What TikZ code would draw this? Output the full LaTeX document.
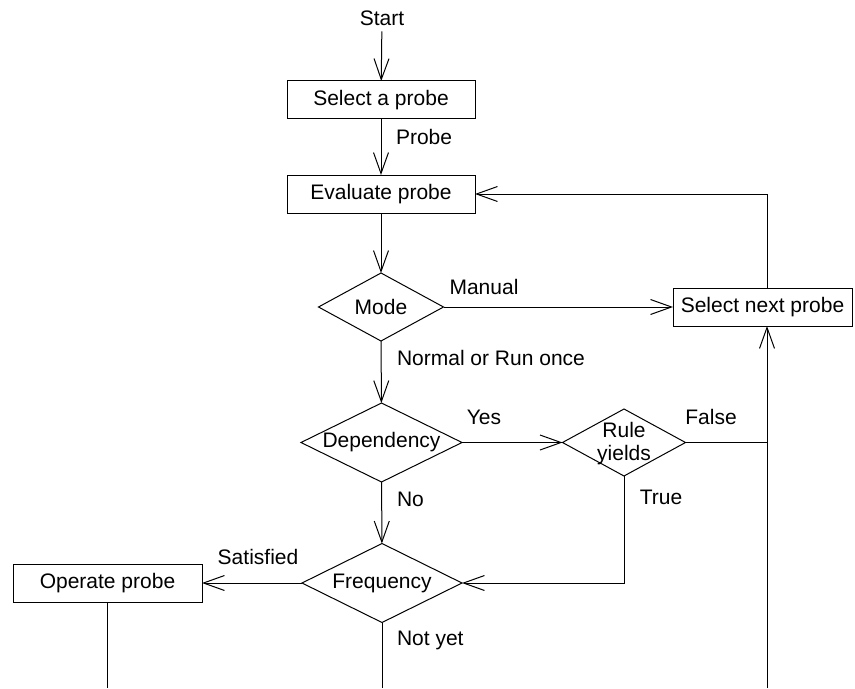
\documentclass[tikz,border=0pt]{standalone}
\usepackage{fontspec}
\setmainfont{Liberation Sans}
\usetikzlibrary{shapes.geometric,arrows.meta}
\begin{document}
\begin{tikzpicture}[x=0.75pt,y=-0.75pt,
  every node/.style={font=\fontsize{15.75}{18}\selectfont, inner sep=0pt, outer sep=0pt},
  line/.style={draw=black, line width=0.75pt},
  flow/.style={line, -{Straight Barb[length=15.75pt,width=11.25pt,line width=0.75pt]}},
  stepbox/.style={draw=black, line width=0.75pt, rectangle, minimum height=28.5pt},
  choice/.style={draw=black, line width=0.75pt, diamond},
  tag/.style={anchor=west}
]
\useasboundingbox (0,0) rectangle (855,688);

% process boxes
\node (start) at (382,18) {Start};
\node[stepbox, minimum width=141pt] (sel) at (381,100) {Select a probe};
\node[stepbox, minimum width=141pt] (eval) at (381,194) {Evaluate probe};
\node[stepbox, minimum width=134.25pt] (next) at (762.5,307) {Select next probe};
\node[stepbox, minimum width=141.75pt] (op) at (107.5,583) {Operate probe};

% decisions
\node[choice, minimum width=93.75pt, minimum height=51pt] (mode) at (381,307) {};
\node (mode-t) at (mode) {Mode};
\node[choice, minimum width=120.75pt, minimum height=59.25pt] (dep) at (381.5,442.5) {};
\node (dep-t) at (dep) {Dependency};
\node[choice, minimum width=92.25pt, minimum height=50.25pt] (rule) at (624,442.5) {};
\node[align=center, font=\fontsize{15.75}{17.25}\selectfont] (rule-t) at (624,444) {Rule\\yields};
\node[choice, minimum width=120pt, minimum height=59.25pt] (freq) at (382,583) {};
\node (freq-t) at (freq) {Frequency};

% helper points: right return column and lower edge
\coordinate (colR) at (767,194);
\coordinate (low) at (0,688);

% connectors
\draw[flow, shorten <=4.5pt] (start) -- (sel);
\draw[flow] (sel) -- (eval);
\draw[flow] (eval) -- (mode);
\draw[flow] (mode.east) -- (next.west);
\draw[flow] (next.north -| colR) |- (eval.east);
\draw[flow] (mode) -- (dep);
\draw[flow] (dep.east) -- (rule.west);
\draw[line] (rule.east) -- (rule.east -| colR);
\draw[flow] (low -| colR) -- (next.south -| colR);
\draw[flow] (dep) -- (freq);
\draw[flow] (rule.south) |- (freq.east);
\draw[flow] (freq.west) -- (op.east);
\draw[line] (op.south) -- (op.south |- low);
\draw[line] (freq.south) -- (freq.south |- low);

% edge labels
\node[tag] (l-probe) at (396,137) {Probe};
\node (l-manual) at (484,287) {Manual};
\node[tag] (l-normal) at (397,358) {Normal or Run once};
\node (l-yes) at (484,417) {Yes};
\node (l-false) at (711,417) {False};
\node (l-true) at (661,497) {True};
\node[tag] (l-no) at (397,499) {No};
\node (l-sat) at (258,557) {Satisfied};
\node[tag] (l-notyet) at (397,640) {Not yet};
\end{tikzpicture}
\end{document}
